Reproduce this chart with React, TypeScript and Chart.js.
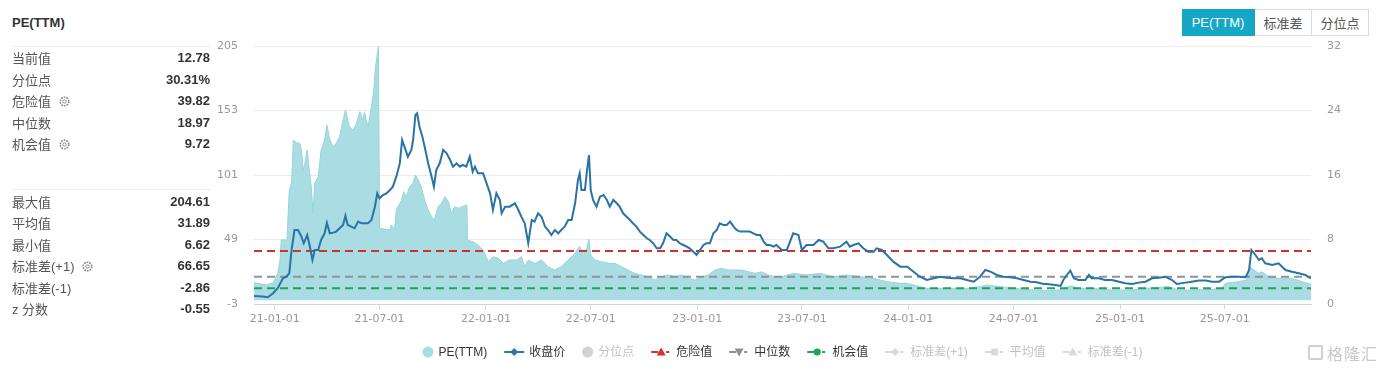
import React, { useEffect, useRef } from 'react';
import { Chart, registerables } from 'chart.js';

Chart.register(...registerables);

// ---------------- data ----------------
const peDates = [
  '2020-11-26','2020-12-17','2020-12-29','2021-01-06','2021-01-10','2021-01-12','2021-01-22','2021-01-26','2021-01-30','2021-02-02',
  '2021-02-08','2021-02-13','2021-02-16','2021-02-19','2021-02-22','2021-02-26','2021-03-01','2021-03-05','2021-03-08','2021-03-11',
  '2021-03-17','2021-03-22','2021-03-28','2021-04-01','2021-04-06','2021-04-12','2021-04-17','2021-04-23','2021-04-29','2021-05-03',
  '2021-05-07','2021-05-10','2021-05-16','2021-05-22','2021-05-28','2021-06-02','2021-06-05','2021-06-08','2021-06-11','2021-06-17',
  '2021-06-21','2021-06-24','2021-06-29','2021-07-01','2021-07-19','2021-07-21','2021-07-27','2021-07-30','2021-08-08','2021-08-12',
  '2021-08-16','2021-08-22','2021-08-28','2021-09-01','2021-09-06','2021-09-11','2021-09-17','2021-09-23','2021-09-29','2021-10-04',
  '2021-10-10','2021-10-16','2021-10-22','2021-10-28','2021-11-02','2021-11-08','2021-11-14','2021-11-20','2021-11-29','2021-11-30',
  '2021-12-10','2021-12-18','2021-12-27','2022-01-05','2022-01-13','2022-01-22','2022-01-31','2022-02-11','2022-02-23','2022-03-03',
  '2022-03-09','2022-03-15','2022-03-26','2022-04-07','2022-04-18','2022-04-30','2022-05-11','2022-05-23','2022-06-04','2022-06-09',
  '2022-06-12','2022-06-18','2022-06-24','2022-06-28','2022-07-01','2022-07-08','2022-07-20','2022-08-01','2022-08-12','2022-08-23',
  '2022-09-04','2022-09-15','2022-09-27','2022-10-08','2022-10-20','2022-10-31','2022-11-12','2022-11-24','2022-12-05','2022-12-17',
  '2022-12-28','2023-01-09','2023-01-20','2023-02-01','2023-02-12','2023-02-24','2023-03-07','2023-03-19','2023-03-31','2023-04-11',
  '2023-04-22','2023-05-04','2023-05-16','2023-05-27','2023-06-16','2023-07-09','2023-08-01','2023-08-24','2023-09-16','2023-10-09',
  '2023-11-02','2023-11-25','2023-12-18','2023-12-30','2024-01-21','2024-02-02','2024-02-25','2024-03-19','2024-04-11','2024-05-04',
  '2024-05-16','2024-06-08','2024-07-01','2024-08-04','2024-08-27','2024-09-17','2024-10-04','2024-10-10','2024-10-21','2024-11-13',
  '2024-12-18','2025-01-22','2025-02-14','2025-03-09','2025-03-26','2025-04-12','2025-05-05','2025-06-09','2025-06-26','2025-07-02',
  '2025-07-25','2025-08-08','2025-08-13','2025-08-20','2025-08-29','2025-09-03','2025-09-15','2025-10-02','2025-10-25','2025-11-12',
  '2025-11-27',
];
const peValues = [
  14.2, 12.3, 14.0, 21.7, 32.5, 48.6, 48.6, 88.9, 94.3, 129.2,
  127.0, 126.5, 121.1, 105.0, 110.4, 121.1, 107.7, 91.6, 70.3, 94.3,
  99.6, 121.1, 129.2, 141.3, 129.2, 123.8, 126.5, 131.9, 145.3, 153.4,
  145.3, 139.9, 137.2, 142.6, 152.0, 145.3, 152.0, 145.3, 139.9, 156.0,
  169.5, 188.3, 204.61, 58.0, 56.6, 60.7, 58.0, 72.8, 80.8, 87.5,
  83.5, 91.6, 94.3, 101.0, 97.0, 91.6, 80.8, 72.8, 67.4, 64.7,
  75.4, 78.1, 83.5, 79.5, 70.3, 75.4, 74.1, 75.4, 76.8, 48.6,
  47.2, 44.6, 40.5, 31.1, 35.1, 33.8, 29.8, 32.5, 32.5, 35.1,
  27.1, 32.5, 29.8, 32.5, 27.1, 24.4, 27.1, 32.5, 37.8, 41.9,
  43.2, 37.8, 41.9, 49.1, 36.5, 32.5, 31.1, 29.8, 29.8, 27.1,
  24.4, 21.7, 20.4, 19.0, 16.3, 19.0, 20.4, 19.0, 20.4, 17.7,
  16.3, 19.0, 20.4, 24.4, 25.8, 24.4, 24.4, 24.4, 23.0, 21.7,
  23.0, 20.4, 19.0, 19.0, 21.7, 20.4, 21.7, 19.0, 20.4, 19.0,
  17.7, 15.0, 13.7, 13.7, 11.0, 9.6, 9.6, 9.6, 9.6, 11.0,
  12.3, 11.0, 9.6, 8.3, 7.7, 8.3, 11.0, 11.5, 9.6, 9.6,
  8.3, 8.3, 9.6, 10.4, 11.0, 8.3, 8.3, 8.8, 9.6, 13.7,
  15.0, 16.3, 27.1, 24.4, 21.7, 23.0, 19.0, 17.7, 17.7, 15.0,
  12.78,
];

const priceDates = [
  '2020-11-26','2020-12-11','2020-12-20','2020-12-29','2021-01-06','2021-01-15','2021-01-21','2021-01-26','2021-01-30','2021-02-04',
  '2021-02-10','2021-02-16','2021-02-20','2021-02-26','2021-03-02','2021-03-07','2021-03-11','2021-03-17','2021-03-22','2021-03-28',
  '2021-04-01','2021-04-06','2021-04-12','2021-04-17','2021-04-23','2021-04-29','2021-05-03','2021-05-07','2021-05-13','2021-05-19',
  '2021-05-25','2021-05-31','2021-06-05','2021-06-11','2021-06-17','2021-06-23','2021-06-27','2021-07-01','2021-07-07','2021-07-13',
  '2021-07-19','2021-07-24','2021-07-30','2021-08-05','2021-08-09','2021-08-13','2021-08-19','2021-08-25','2021-08-28','2021-09-01',
  '2021-09-04','2021-09-08','2021-09-13','2021-09-17','2021-09-23','2021-09-29','2021-10-03','2021-10-07','2021-10-13','2021-10-19',
  '2021-10-25','2021-10-31','2021-11-05','2021-11-11','2021-11-17','2021-11-22','2021-11-28','2021-12-04','2021-12-09','2021-12-13',
  '2021-12-18','2021-12-27','2022-01-02','2022-01-08','2022-01-13','2022-01-19','2022-01-25','2022-01-28','2022-02-03','2022-02-11',
  '2022-02-20','2022-02-26','2022-03-03','2022-03-09','2022-03-15','2022-03-21','2022-03-26','2022-04-01','2022-04-07','2022-04-13',
  '2022-04-18','2022-04-24','2022-04-30','2022-05-06','2022-05-11','2022-05-17','2022-05-23','2022-05-29','2022-06-04','2022-06-09',
  '2022-06-12','2022-06-15','2022-06-21','2022-06-24','2022-06-28','2022-07-01','2022-07-05','2022-07-11','2022-07-17','2022-07-23',
  '2022-07-29','2022-08-03','2022-08-09','2022-08-15','2022-08-20','2022-08-26','2022-09-01','2022-09-07','2022-09-12','2022-09-18',
  '2022-09-24','2022-09-30','2022-10-06','2022-10-11','2022-10-17','2022-10-23','2022-10-29','2022-11-03','2022-11-09','2022-11-15',
  '2022-11-21','2022-11-26','2022-12-02','2022-12-08','2022-12-14','2022-12-19','2022-12-25','2022-12-31','2023-01-06','2023-01-12',
  '2023-01-17','2023-01-23','2023-01-29','2023-02-04','2023-02-09','2023-02-15','2023-02-21','2023-02-27','2023-03-05','2023-03-10',
  '2023-03-16','2023-03-22','2023-03-28','2023-04-02','2023-04-08','2023-04-14','2023-04-20','2023-04-26','2023-05-01','2023-05-07',
  '2023-05-13','2023-05-18','2023-05-24','2023-05-27','2023-06-05','2023-06-16','2023-06-25','2023-07-01','2023-07-09','2023-07-21',
  '2023-07-30','2023-08-07','2023-08-16','2023-08-24','2023-09-05','2023-09-16','2023-09-22','2023-09-28','2023-10-07','2023-10-15',
  '2023-10-24','2023-11-02','2023-11-07','2023-11-16','2023-11-25','2023-12-06','2023-12-18','2023-12-30','2024-01-10','2024-01-21',
  '2024-02-02','2024-02-14','2024-02-25','2024-03-07','2024-03-19','2024-03-31','2024-04-11','2024-04-23','2024-05-04','2024-05-13',
  '2024-05-22','2024-06-02','2024-06-13','2024-06-25','2024-07-07','2024-07-18','2024-07-30','2024-08-10','2024-08-22','2024-08-27',
  '2024-09-11','2024-09-20','2024-09-25','2024-10-01','2024-10-07','2024-10-13','2024-10-21','2024-11-02','2024-11-08','2024-11-13',
  '2024-11-25','2024-12-06','2024-12-18','2024-12-30','2025-01-10','2025-01-22','2025-02-02','2025-02-14','2025-02-25','2025-03-09',
  '2025-03-20','2025-04-01','2025-04-09','2025-04-24','2025-05-05','2025-05-17','2025-05-29','2025-06-09','2025-06-21','2025-07-02',
  '2025-07-14','2025-07-25','2025-08-06','2025-08-12','2025-08-16','2025-08-23','2025-08-29','2025-09-03','2025-09-09','2025-09-21',
  '2025-10-02','2025-10-08','2025-10-14','2025-10-25','2025-11-06','2025-11-17','2025-11-27',
];
const priceValues = [
  1.0, 0.92, 0.83, 1.33, 1.95, 3.19, 3.4, 3.81, 6.7, 9.18,
  9.18, 8.36, 7.53, 8.56, 7.32, 5.46, 6.7, 6.7, 7.94, 8.77,
  10.09, 8.77, 8.85, 8.98, 9.39, 9.8, 10.96, 9.8, 9.6, 9.39,
  10.22, 10.01, 10.01, 10.01, 10.42, 12.07, 13.73, 13.11, 13.52, 13.73,
  14.14, 14.55, 15.79, 17.45, 20.34, 19.51, 18.27, 19.1, 20.34, 23.44,
  23.65, 21.99, 20.75, 19.51, 17.45, 15.79, 14.55, 16.62, 17.45, 19.1,
  18.69, 17.86, 17.03, 17.45, 17.03, 17.24, 17.03, 18.27, 16.41, 17.03,
  16.21, 16.21, 14.97, 13.73, 11.66, 13.73, 12.9, 11.25, 12.07, 12.07,
  12.49, 11.66, 10.83, 10.01, 7.53, 10.42, 10.22, 11.25, 10.83, 9.6,
  9.18, 8.56, 9.18, 8.77, 9.18, 9.6, 10.42, 10.42, 12.49, 15.38,
  16.21, 14.14, 14.14, 16.21, 18.48, 14.14, 12.9, 12.07, 13.32, 13.52,
  12.9, 12.07, 12.9, 12.49, 12.07, 11.25, 10.83, 10.42, 10.01, 9.6,
  8.98, 8.56, 8.15, 7.94, 7.53, 6.91, 6.91, 7.53, 8.77, 8.36,
  7.94, 7.94, 7.53, 7.32, 7.12, 6.91, 6.5, 6.08, 6.7, 7.32,
  7.53, 7.53, 8.77, 9.18, 10.01, 9.8, 9.8, 10.22, 9.6, 9.18,
  8.98, 8.98, 8.98, 8.98, 8.77, 8.56, 8.56, 7.74, 7.32, 7.32,
  7.12, 7.32, 6.91, 6.7, 6.7, 8.77, 8.56, 6.7, 7.32, 7.32,
  7.94, 7.73, 6.91, 6.91, 7.11, 7.73, 7.11, 7.32, 7.53, 6.91,
  6.49, 6.49, 6.91, 6.7, 6.08, 5.25, 4.63, 4.63, 4.01, 3.39,
  2.98, 3.19, 3.39, 3.27, 3.19, 3.19, 2.98, 2.77, 3.39, 4.22,
  4.01, 3.6, 3.39, 3.31, 3.19, 2.98, 2.77, 2.69, 2.49, 2.49,
  2.36, 2.24, 2.98, 3.6, 4.14, 3.19, 2.98, 2.98, 3.6, 3.19,
  3.19, 2.98, 2.98, 2.77, 2.57, 2.49, 2.65, 2.77, 3.19, 3.27,
  3.39, 2.98, 2.49, 2.65, 2.77, 2.9, 2.9, 2.77, 2.77, 3.31,
  3.39, 3.39, 3.31, 4.22, 6.7, 6.08, 5.46, 5.67, 5.05, 4.84,
  5.05, 4.63, 4.22, 4.01, 3.81, 3.6, 3.19,
];

const dangerValue = 39.82;
const medianValue = 18.97;
const chanceValue = 9.72;

const xTickLabels = ['21-01-01', '21-07-01', '22-01-01', '22-07-01', '23-01-01', '23-07-01', '24-01-01', '24-07-01', '25-01-01', '25-07-01'];
const peAxisTicks = [-3, 49, 101, 153, 205];
const priceAxisTicks = [0, 8, 16, 24, 32];

const statLabelsTop = ['当前值', '分位点', '危险值', '中位数', '机会值'];
const statValuesTop = ['12.78', '30.31%', '39.82', '18.97', '9.72'];
const statGearTop = [false, false, true, false, true];
const statLabelsBottom = ['最大值', '平均值', '最小值', '标准差(+1)', '标准差(-1)', 'z 分数'];
const statValuesBottom = ['204.61', '31.89', '6.62', '66.65', '-2.86', '-0.55'];
const statGearBottom = [false, false, false, true, false, false];

const tabLabels = ['PE(TTM)', '标准差', '分位点'];

const legendTexts = ['PE(TTM)', '收盘价', '分位点', '危险值', '中位数', '机会值', '标准差(+1)', '平均值', '标准差(-1)'];

// ---------------- helpers ----------------
const DAY = 86400000;
const toDay = (s: string) => {
  const [y, m, d] = s.split('-').map(Number);
  return Date.UTC(y < 100 ? 2000 + y : y, m - 1, d) / DAY;
};
const xTickValues = xTickLabels.map(toDay);

const FONT = '"Liberation Sans", "Noto Sans CJK SC", sans-serif';

type LegendStyle = { kind: 'dot' | 'line'; marker?: string; color: string; active: boolean; solid?: boolean };
const legendStyles: LegendStyle[] = [
  { kind: 'dot', color: '#a9dce2', active: true },
  { kind: 'line', marker: 'diamond', color: '#2c78a8', active: true, solid: true },
  { kind: 'dot', color: '#d2d2d2', active: false },
  { kind: 'line', marker: 'triangle', color: '#d0312d', active: true },
  { kind: 'line', marker: 'triangleDown', color: '#8a8f99', active: true },
  { kind: 'line', marker: 'circle', color: '#22a35a', active: true },
  { kind: 'line', marker: 'diamond', color: '#d9d9d9', active: false },
  { kind: 'line', marker: 'square', color: '#d9d9d9', active: false },
  { kind: 'line', marker: 'triangle', color: '#d9d9d9', active: false },
];

function drawMarkerShape(ctx: CanvasRenderingContext2D, marker: string, cx: number, cy: number) {
  ctx.beginPath();
  if (marker === 'diamond') {
    ctx.moveTo(cx, cy - 4); ctx.lineTo(cx + 4, cy); ctx.lineTo(cx, cy + 4); ctx.lineTo(cx - 4, cy); ctx.closePath();
  } else if (marker === 'triangle') {
    ctx.moveTo(cx, cy - 4.5); ctx.lineTo(cx + 4.5, cy + 3.5); ctx.lineTo(cx - 4.5, cy + 3.5); ctx.closePath();
  } else if (marker === 'triangleDown') {
    ctx.moveTo(cx - 4.5, cy - 3.5); ctx.lineTo(cx + 4.5, cy - 3.5); ctx.lineTo(cx, cy + 4.5); ctx.closePath();
  } else if (marker === 'square') {
    ctx.rect(cx - 3.5, cy - 3.5, 7, 7);
  } else {
    ctx.arc(cx, cy, 3.6, 0, Math.PI * 2);
  }
  ctx.fill();
}

const bottomLegend = {
  id: 'bottomLegend',
  afterDraw(chart: any) {
    const ctx: CanvasRenderingContext2D = chart.ctx;
    ctx.save();
    ctx.font = '12px ' + FONT;
    const gapText = 5;
    const gapItems = 17;
    const markerW = (s: LegendStyle) => (s.kind === 'dot' ? 11 : 20);
    const widths = legendTexts.map((t, i) => markerW(legendStyles[i]) + gapText + ctx.measureText(t).width);
    const total = widths.reduce((a, b) => a + b, 0) + gapItems * (widths.length - 1);
    const ca = chart.chartArea;
    let x = (ca.left + ca.right) / 2 - total / 2;
    const y = 352;
    legendTexts.forEach((t, i) => {
      const s = legendStyles[i];
      const mw = markerW(s);
      ctx.fillStyle = s.color;
      ctx.strokeStyle = s.color;
      if (s.kind === 'dot') {
        ctx.beginPath();
        ctx.arc(x + 5.5, y, 5.5, 0, Math.PI * 2);
        ctx.fill();
      } else {
        ctx.lineWidth = 2;
        ctx.beginPath();
        if (s.solid) {
          ctx.moveTo(x, y); ctx.lineTo(x + mw, y);
        } else {
          ctx.moveTo(x, y); ctx.lineTo(x + 7, y);
          ctx.moveTo(x + 15, y); ctx.lineTo(x + 18, y);
        }
        ctx.stroke();
        drawMarkerShape(ctx, s.marker || 'circle', x + (s.solid ? mw / 2 : 10), y);
      }
      ctx.fillStyle = s.active ? '#333333' : '#c2c2c2';
      ctx.textBaseline = 'middle';
      ctx.textAlign = 'left';
      ctx.fillText(t, x + mw + gapText, y + 0.5);
      x += widths[i] + gapItems;
    });
    ctx.restore();
  },
};

function Gear() {
  return (
    <svg width="11" height="11" viewBox="0 0 11 11" style={{ marginLeft: 8, verticalAlign: 'middle', position: 'relative', top: -1 }}>
      <circle cx="5.5" cy="5.5" r="4.3" fill="none" stroke="#8a8a8a" strokeWidth="1.6" strokeDasharray="1.7 1" />
      <circle cx="5.5" cy="5.5" r="1.7" fill="none" stroke="#8a8a8a" strokeWidth="1" />
    </svg>
  );
}

function StatRows({ labels, values, gears, top }: { labels: string[]; values: string[]; gears: boolean[]; top: number }) {
  return (
    <>
      {labels.map((l, i) => (
        <div
          key={l}
          style={{
            position: 'absolute', left: 12, width: 198, top: top + i * 21.5, height: 21.5,
            display: 'flex', alignItems: 'center', justifyContent: 'space-between', fontSize: 13,
          }}
        >
          <span style={{ color: '#555' }}>
            {l}
            {gears[i] ? <Gear /> : null}
          </span>
          <span style={{ color: '#333', fontWeight: 'bold' }}>{values[i]}</span>
        </div>
      ))}
    </>
  );
}

export default function App() {
  const canvasRef = useRef<HTMLCanvasElement | null>(null);

  useEffect(() => {
    const canvas = canvasRef.current;
    if (!canvas) return;
    const xMin = toDay(peDates[0]);
    const xMax = toDay(peDates[peDates.length - 1]);
    const pePoints = peDates.map((d, i) => ({ x: toDay(d), y: peValues[i] }));
    const pricePoints = priceDates.map((d, i) => ({ x: toDay(d), y: priceValues[i] }));
    const hLine = (v: number) => [{ x: xMin, y: v }, { x: xMax, y: v }];
    const tickFont = { family: '"DejaVu Sans", sans-serif', size: 11 };

    const chart = new Chart(canvas, {
      type: 'line',
      data: {
        datasets: [
          {
            label: 'PE(TTM)', data: pePoints, yAxisID: 'yPE', order: 3,
            borderColor: '#97d4db', borderWidth: 1, backgroundColor: '#aadde3', fill: 'origin',
            pointRadius: 0, tension: 0,
          },
          {
            label: '危险值', data: hLine(dangerValue), yAxisID: 'yPE', order: 2,
            borderColor: '#d0312d', borderWidth: 2, borderDash: [8, 5], pointRadius: 0, fill: false,
          },
          {
            label: '中位数', data: hLine(medianValue), yAxisID: 'yPE', order: 2,
            borderColor: '#8e9299', borderWidth: 2, borderDash: [8, 5], pointRadius: 0, fill: false,
          },
          {
            label: '机会值', data: hLine(chanceValue), yAxisID: 'yPE', order: 2,
            borderColor: '#22a35a', borderWidth: 2, borderDash: [8, 5], pointRadius: 0, fill: false,
          },
          {
            label: '收盘价', data: pricePoints, yAxisID: 'yPrice', order: 1,
            borderColor: '#2a74a5', borderWidth: 2, pointRadius: 0, fill: false, tension: 0,
          },
        ],
      },
      options: {
        responsive: false,
        animation: false,
        events: [],
        layout: { padding: { top: 46, bottom: 43, left: 0, right: 0 } },
        plugins: { legend: { display: false }, tooltip: { enabled: false }, title: { display: false } },
        scales: {
          x: {
            type: 'linear', min: xMin, max: xMax,
            afterBuildTicks: (s: any) => { s.ticks = xTickValues.map((v) => ({ value: v })); },
            afterFit: (s: any) => { s.height = 22; },
            ticks: {
              autoSkip: false, maxRotation: 0, minRotation: 0, color: '#999', font: tickFont, padding: 4,
              callback: (v: any) => { const i = xTickValues.indexOf(Number(v)); return i >= 0 ? xTickLabels[i] : ''; },
            },
            grid: { drawOnChartArea: false, drawTicks: true, tickLength: 5, color: '#ccd6eb' },
            border: { display: true, color: '#ccd6eb' },
          },
          yPE: {
            type: 'linear', position: 'left', min: -3, max: 205,
            afterBuildTicks: (s: any) => { s.ticks = peAxisTicks.map((v) => ({ value: v })); },
            afterFit: (s: any) => { s.width = 71; },
            ticks: { color: '#999', font: tickFont, padding: 16 },
            grid: { color: '#ebebeb', drawTicks: false },
            border: { display: false },
          },
          yPrice: {
            type: 'linear', position: 'right', min: 0, max: 32,
            afterBuildTicks: (s: any) => { s.ticks = priceAxisTicks.map((v) => ({ value: v })); },
            afterFit: (s: any) => { s.width = 70; },
            ticks: { color: '#999', font: tickFont, padding: 16 },
            grid: { display: false, drawTicks: false },
            border: { display: false },
          },
        },
      } as any,
      plugins: [bottomLegend],
    });
    return () => chart.destroy();
  }, []);

  return (
    <div
      style={{
        position: 'absolute', left: 0, top: 0, width: 1381, height: 369, background: '#fff',
        overflow: 'hidden', fontFamily: FONT,
      }}
    >
      <canvas ref={canvasRef} width={1198} height={369} style={{ position: 'absolute', left: 183, top: 0 }} />

      <div style={{ position: 'absolute', left: 12, top: 13, height: 20, lineHeight: '20px', fontSize: 13, fontWeight: 'bold', color: '#333' }}>
        PE(TTM)
      </div>
      <div style={{ position: 'absolute', left: 12, top: 46, width: 198, height: 1, background: '#ececec' }} />
      <StatRows labels={statLabelsTop} values={statValuesTop} gears={statGearTop} top={47} />
      <div style={{ position: 'absolute', left: 12, top: 189, width: 198, height: 1, background: '#ececec' }} />
      <StatRows labels={statLabelsBottom} values={statValuesBottom} gears={statGearBottom} top={190.5} />

      <div style={{ position: 'absolute', left: 1182, top: 9, height: 27, display: 'flex' }}>
        {tabLabels.map((t, i) => (
          <div
            key={t}
            style={{
              width: i === 0 ? 73 : 57, height: 27, boxSizing: 'border-box',
              border: '1px solid ' + (i === 0 ? '#14a8c6' : '#dcdcdc'), borderLeft: i === 0 ? undefined : 'none',
              background: i === 0 ? '#14a8c6' : '#fff', color: i === 0 ? '#fff' : '#555',
              fontSize: 13, display: 'flex', alignItems: 'center', justifyContent: 'center',
            }}
          >
            {t}
          </div>
        ))}
      </div>

      <div style={{ position: 'absolute', left: 1308, top: 343, height: 19, display: 'flex', alignItems: 'center', color: '#c9c9c9' }}>
        <div style={{ width: 15, height: 15, boxSizing: 'border-box', border: '2px solid #cfcfcf', borderRadius: 2, marginRight: 4 }} />
        <span style={{ fontSize: 16, letterSpacing: 1 }}>格隆汇</span>
      </div>
    </div>
  );
}
